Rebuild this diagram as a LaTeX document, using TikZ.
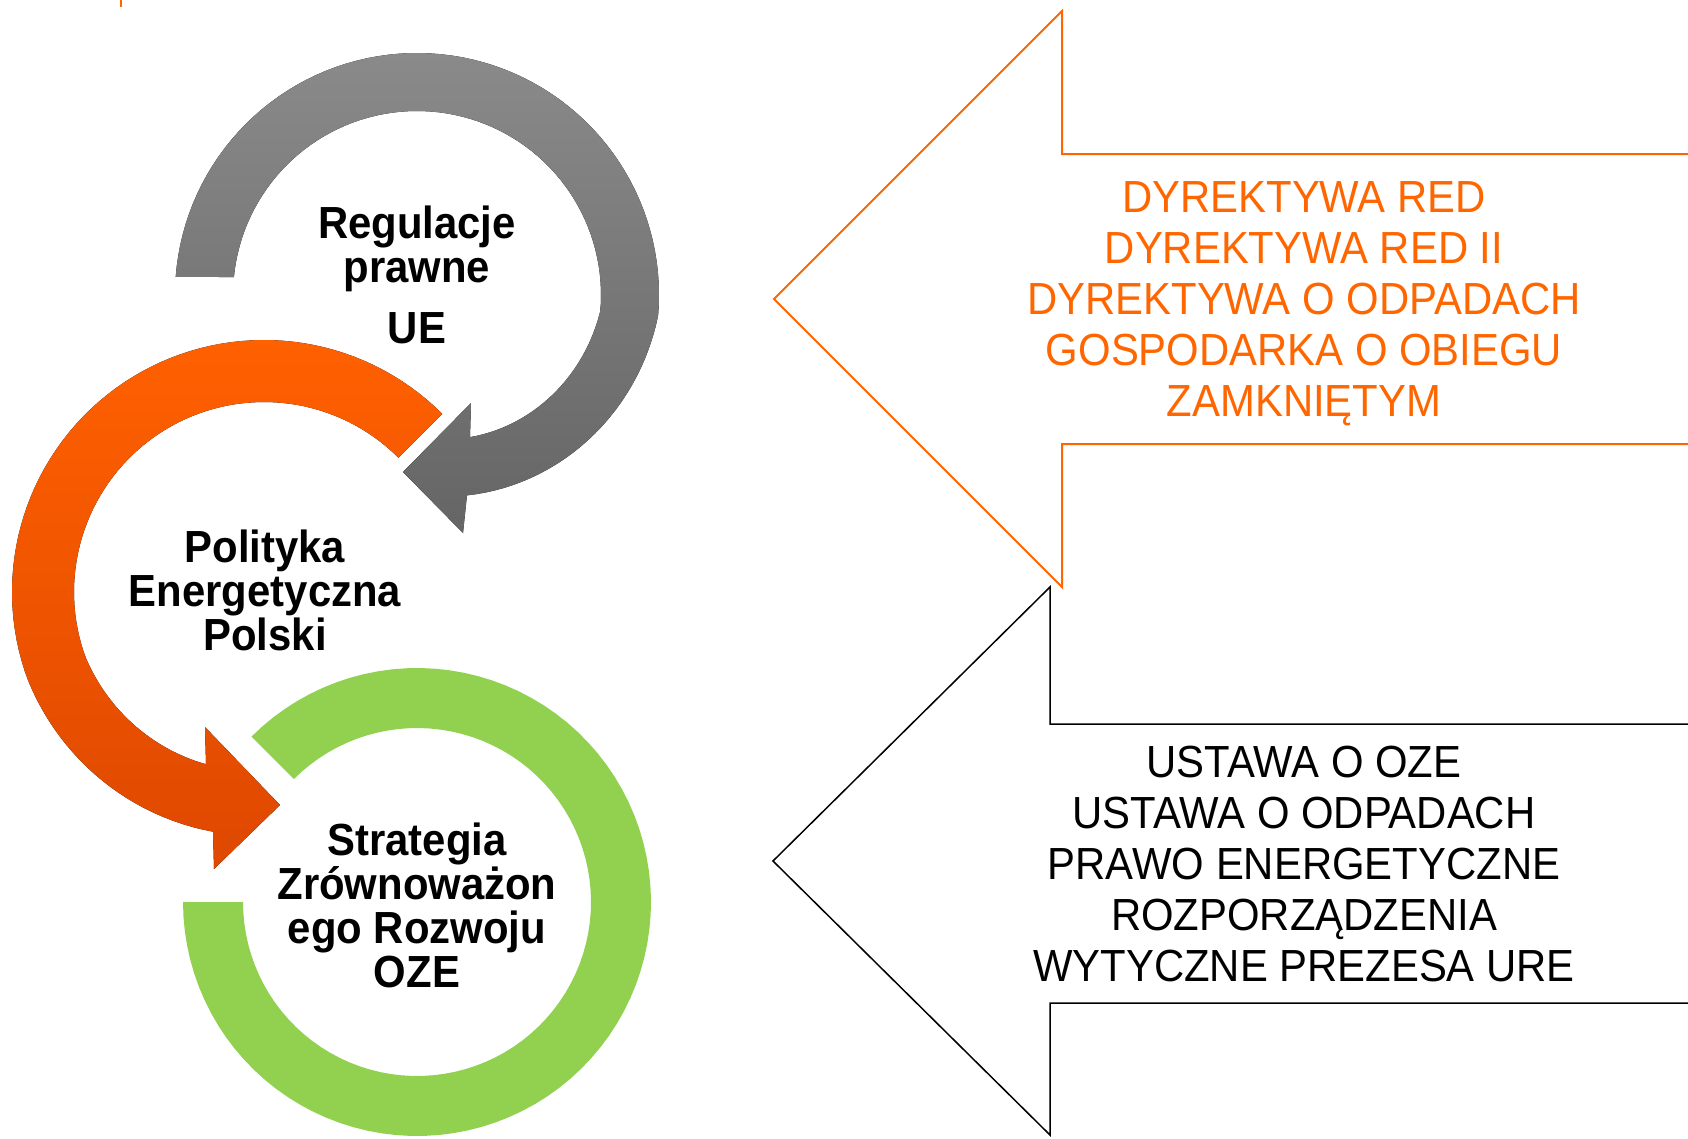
\documentclass[tikz,border=0pt]{standalone}
\usepackage{fontspec}
\setmainfont{Liberation Sans}[FakeStretch=0.93]
\usepackage{tikz}
\definecolor{ringgrayT}{RGB}{138,138,138}
\definecolor{ringgrayB}{RGB}{100,101,100}
\definecolor{ringorangeT}{RGB}{255,96,0}
\definecolor{ringorangeB}{RGB}{222,72,0}
\definecolor{ringgreen}{RGB}{146,208,80}
\definecolor{lineorange}{RGB}{255,102,0}

\begin{document}
\begin{tikzpicture}[x=1pt,y=-1pt,
	ringlabel/.style={font=\fontsize{45}{44}\selectfont\bfseries,align=center},
	listlabel/.style={font=\fontsize{45}{51}\selectfont,align=center},
	bigarrow/.style={line join=miter}]
	\useasboundingbox (0,0) rectangle (1688,1138);
	\draw[lineorange,line width=1.5pt] (121,0) -- (121,7);

	\fill[ringgreen]
		plot[domain=135:-180,samples=90] ({417+234*cos(\x)},{902-234*sin(\x)})
		-- plot[domain=-180:135,samples=90] ({417+174*cos(\x)},{902-174*sin(\x)})
		-- cycle;
	\fill[top color=ringorangeT,bottom color=ringorangeB]
		plot[domain=45:258,samples=90] ({264+(252-0.12*max(\x-200,0))*cos(\x)},{592-(252-0.12*max(\x-200,0))*sin(\x)})
		-- (214,869) -- (280,805) -- (205,727) -- (206,764)
		-- plot[domain=251.4:45,samples=90] ({264+(190-0.16*max(\x-200,0))*cos(\x)},{592-(190-0.16*max(\x-200,0))*sin(\x)})
		-- cycle;
	\fill[top color=ringgrayT,bottom color=ringgrayB]
		plot[domain=175.7:-76,samples=100] ({417+(242+0.5*min(\x+5,0))*cos(\x)},{295-(242+0.5*min(\x+5,0))*sin(\x)})
		-- (463,533) -- (403,472) -- (471,403) -- (470,437)
		-- plot[domain=-69.5:174.4,samples=100] ({417+(184+0.5*min(\x+5,0))*cos(\x)},{295-(184+0.5*min(\x+5,0))*sin(\x)})
		-- cycle;

	\node[ringlabel] (eu) at (417,275) {Regulacje\\prawne\\[17pt]UE};
	\node[ringlabel] (pep) at (265,590) {Polityka\\Energetyczna\\Polski};
	\node[ringlabel] (strategy) at (417,905) {Strategia\\Zrównoważon\\ego Rozwoju\\OZE};

	\draw[lineorange,bigarrow,line width=2pt] (1688,154) -- (1062,154) -- (1062,11) -- (774,299) -- (1062,587) -- (1062,444) -- (1688,444);
	\draw[black,bigarrow,line width=1.5pt] (1688,724) -- (1050,724) -- (1050,587) -- (773,861) -- (1050,1135) -- (1050,1003) -- (1688,1003);

	\node[listlabel,text=lineorange] (eulist) at (1304,304) {DYREKTYWA RED\\DYREKTYWA RED II\\DYREKTYWA O ODPADACH\\GOSPODARKA O OBIEGU\\ZAMKNIĘTYM};
	\node[listlabel] (pllist) at (1304,864) {USTAWA O OZE\\USTAWA O ODPADACH\\PRAWO ENERGETYCZNE\\ROZPORZĄDZENIA\\WYTYCZNE PREZESA URE};
\end{tikzpicture}
\end{document}
